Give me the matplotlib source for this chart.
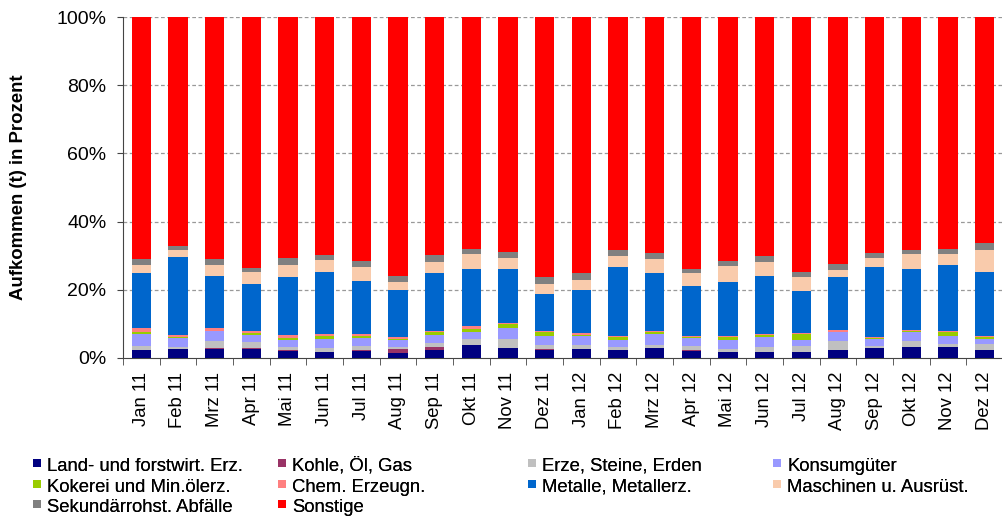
import matplotlib.pyplot as plt
import numpy as np
from matplotlib.lines import Line2D

plt.rcParams['font.family'] = ['Liberation Sans', 'DejaVu Sans']

# Monate
months = ["Jan 11", "Feb 11", "Mrz 11", "Apr 11", "Mai 11", "Jun 11", "Jul 11", "Aug 11",
          "Sep 11", "Okt 11", "Nov 11", "Dez 11", "Jan 12", "Feb 12", "Mrz 12", "Apr 12",
          "Mai 12", "Jun 12", "Jul 12", "Aug 12", "Sep 12", "Okt 12", "Nov 12", "Dez 12"]

# Anteile in Prozent
land = [2.3, 2.6, 2.7, 2.7, 2.1, 1.8, 2.1, 1.5, 2.4, 3.8, 2.8, 2.4,
        2.6, 2.3, 2.9, 2.1, 1.8, 1.8, 1.8, 2.3, 2.8, 3.1, 3.1, 2.3]
kohle = [0.1, 0.1, 0.1, 0.1, 0.1, 0.1, 0.1, 1.0, 0.7, 0.1, 0.1, 0.1,
         0.1, 0.1, 0.1, 0.1, 0.1, 0.1, 0.1, 0.1, 0.1, 0.1, 0.1, 0.1]
erze = [1.2, 0.5, 2.2, 1.9, 1.0, 1.0, 1.3, 0.6, 1.2, 1.6, 2.7, 1.2,
        1.0, 0.7, 0.9, 1.4, 0.7, 1.3, 1.6, 2.6, 0.6, 1.8, 0.9, 1.6]
konsum = [3.3, 2.8, 2.9, 1.9, 2.1, 2.7, 2.3, 2.3, 2.5, 2.2, 3.1, 2.8,
          2.7, 2.3, 3.0, 2.3, 2.7, 2.9, 1.8, 2.6, 2.0, 2.6, 2.3, 1.5]
kokerei = [0.6, 0.2, 0.1, 0.6, 0.6, 0.8, 0.6, 0.2, 0.8, 0.9, 1.2, 1.0,
           0.4, 0.7, 0.7, 0.4, 0.8, 0.6, 1.8, 0.1, 0.4, 0.2, 1.2, 0.8]
chem = [1.2, 0.6, 0.8, 0.7, 0.7, 0.5, 0.7, 0.7, 0.4, 0.7, 0.4, 0.5,
        0.4, 0.4, 0.2, 0.2, 0.3, 0.3, 0.2, 0.4, 0.2, 0.4, 0.2, 0.2]
metalle = [16.3, 22.8, 15.3, 13.8, 17.3, 18.4, 15.6, 13.6, 16.8, 16.7, 15.8, 10.8,
           12.6, 20.2, 17.0, 14.6, 16.0, 17.1, 12.4, 15.7, 20.7, 17.8, 19.5, 18.7]
maschinen = [2.4, 2.1, 3.3, 3.5, 3.5, 3.5, 4.0, 2.3, 3.3, 4.6, 3.1, 2.8,
             3.0, 3.3, 4.2, 3.8, 4.7, 4.1, 4.0, 2.1, 2.6, 4.6, 3.3, 6.6]
sekundaer = [1.5, 1.2, 1.5, 1.3, 1.9, 1.5, 1.6, 1.9, 2.0, 1.5, 1.9, 2.1,
             2.0, 1.8, 1.8, 1.3, 1.3, 1.6, 1.4, 1.8, 1.5, 1.1, 1.5, 1.9]

series = [land, kohle, erze, konsum, kokerei, chem, metalle, maschinen, sekundaer]
sonstige = list(100 - np.sum(series, axis=0))
series.append(sonstige)

labels = ["Land- und forstwirt. Erz.", "Kohle, Öl, Gas", "Erze, Steine, Erden", "Konsumgüter",
          "Kokerei und Min.ölerz.", "Chem. Erzeugn.", "Metalle, Metallerz.", "Maschinen u. Ausrüst.",
          "Sekundärrohst. Abfälle", "Sonstige"]
colors = ["#000080", "#993366", "#C0C0C0", "#9999FF", "#99CC00", "#FF8080",
          "#0066CC", "#F9CBAC", "#808080", "#FF0000"]

fig = plt.figure(figsize=(10.03, 5.18), dpi=100)
ax = fig.add_axes([123 / 1003, 160 / 518, 880 / 1003, 341 / 518])

x = np.arange(len(months))
bottom = np.zeros(len(months))
for vals, lab, col in zip(series, labels, colors):
    ax.bar(x, vals, 0.52, bottom=bottom, color=col, label=lab, zorder=3)
    bottom += np.array(vals)

ax.set_xlim(-0.5, len(months) - 0.5)
ax.set_ylim(0, 100)
ax.set_yticks(range(0, 101, 20))
ax.set_yticklabels([f"{v}%" for v in range(0, 101, 20)], fontsize=14)
for v in range(20, 101, 20):
    ax.axhline(v, color="#999999", linestyle=(0, (3, 2)), linewidth=0.9, zorder=1)

ax.set_xticks(x)
ax.set_xticklabels(months, rotation=90, fontsize=13.3)
ax.tick_params(axis="x", length=0, pad=10)
ax.set_xticks(np.arange(-0.5, len(months), 1), minor=True)
ax.tick_params(axis="x", which="minor", length=5, direction="out", color="#444444")
ax.tick_params(axis="y", length=4, color="#444444", pad=8)

ax.spines["top"].set_visible(False)
ax.spines["right"].set_visible(False)
ax.spines["left"].set_color("#444444")
ax.spines["bottom"].set_color("#444444")

ax.set_ylabel("Aufkommen (t) in Prozent", fontsize=13.4, fontweight="bold", labelpad=21)

# Legende: 4 Spalten mit festen Positionen
col_x = [31.5, 276.5, 526.5, 771.5]
for c in range(4):
    idx = [i for i in range(c, len(labels), 4)]
    handles = [Line2D([], [], marker="s", linestyle="none", markersize=5.8,
                      markerfacecolor=colors[i], markeredgewidth=0) for i in idx]
    leg = fig.legend(handles, [labels[i] for i in idx], loc="upper left",
                     bbox_to_anchor=(col_x[c] / 1003, 1 - 455 / 518),
                     frameon=False, fontsize=13.3, handlelength=0.6, handleheight=1.22,
                     handletextpad=0.24, labelspacing=0.05, borderaxespad=0, borderpad=0)
    fig.add_artist(leg)

fig.savefig("out.png", dpi=100)
